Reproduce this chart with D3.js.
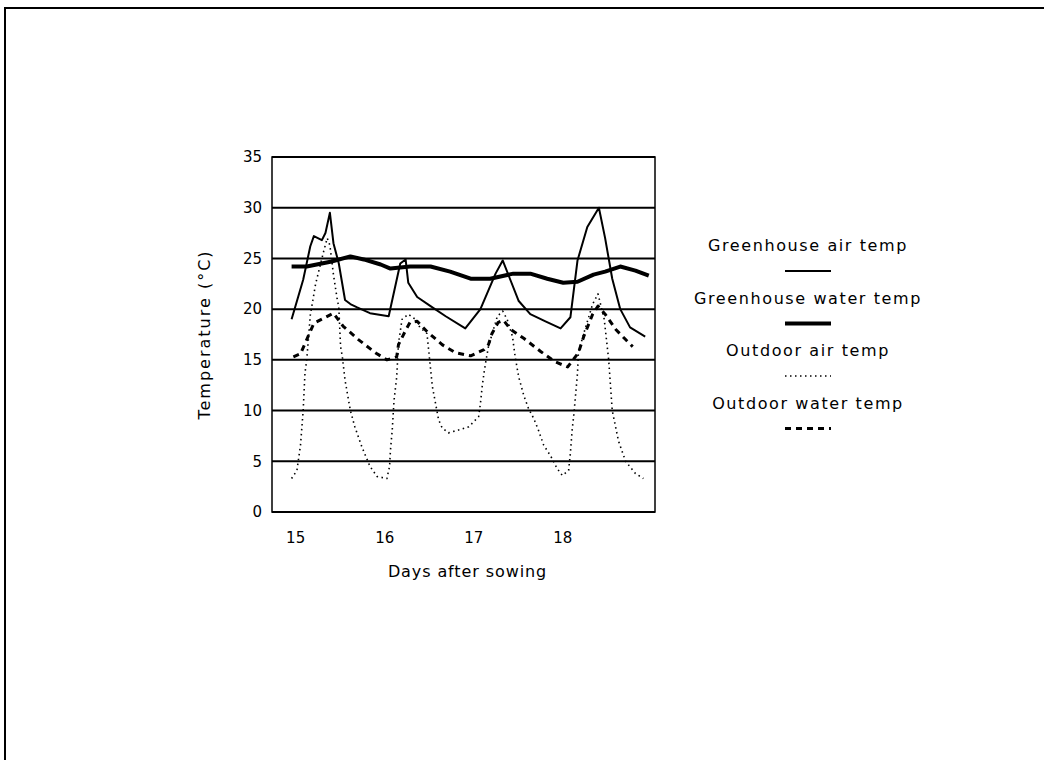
<!DOCTYPE html>
<html lang="en">
<head>
    <meta charset="UTF-8">
    <title>Temperature</title>
    <script src="https://cdn.jsdelivr.net/npm/d3@7"></script>
    <style>
        body { margin: 0; background: #fff; }
        text { font-family: "DejaVu Sans", sans-serif; fill: #000; }
    </style>
</head>
<body>
<script>
    // x = days after sowing, y = temperature (°C)
    const ghAirDays  = [14.96, 15.09, 15.17, 15.21, 15.30, 15.34, 15.39, 15.43, 15.49, 15.56, 15.62, 15.69, 15.84, 16.05,
                        16.18, 16.24, 16.27, 16.37, 16.52, 16.69, 16.91, 17.08, 17.25, 17.33, 17.42, 17.51, 17.64, 17.81,
                        17.98, 18.09, 18.17, 18.28, 18.41, 18.48, 18.56, 18.65, 18.76, 18.93];
    const ghAirTemp  = [19.0, 22.9, 26.2, 27.2, 26.8, 27.5, 29.5, 26.5, 24.5, 20.9, 20.5, 20.2, 19.6, 19.3,
                        24.5, 24.9, 22.6, 21.2, 20.3, 19.3, 18.1, 20.0, 23.5, 24.8, 22.8, 20.8, 19.5, 18.8,
                        18.1, 19.2, 24.8, 28.1, 30.0, 27.0, 23.0, 20.0, 18.2, 17.3];

    const ghWaterDays = [14.96, 15.13, 15.41, 15.62, 15.77, 15.96, 16.07, 16.29, 16.52, 16.74, 16.97, 17.19, 17.45,
                         17.64, 17.83, 18.01, 18.17, 18.35, 18.48, 18.65, 18.82, 18.97];
    const ghWaterTemp = [24.2, 24.2, 24.7, 25.2, 24.9, 24.4, 24.0, 24.2, 24.2, 23.7, 23.0, 23.0, 23.5,
                         23.5, 23.0, 22.6, 22.7, 23.4, 23.7, 24.2, 23.8, 23.3];

    const outAirDays = [14.96, 15.02, 15.06, 15.09, 15.11, 15.13, 15.17, 15.23, 15.32, 15.36, 15.39, 15.43, 15.47, 15.49,
                        15.51, 15.53, 15.56, 15.62, 15.67, 15.75, 15.84, 15.92, 16.03, 16.06, 16.07, 16.09, 16.11, 16.14,
                        16.16, 16.20, 16.27, 16.35, 16.40, 16.48, 16.51, 16.54, 16.57, 16.61, 16.65, 16.72, 16.84, 16.95,
                        17.06, 17.08, 17.10, 17.12, 17.14, 17.17, 17.27, 17.33, 17.38, 17.44, 17.47, 17.51, 17.57, 17.62,
                        17.68, 17.73, 17.79, 17.87, 17.94, 18.00, 18.07, 18.09, 18.11, 18.13, 18.15, 18.17, 18.18, 18.24,
                        18.34, 18.40, 18.47, 18.52, 18.56, 18.63, 18.71, 18.82, 18.91];
    const outAirTemp = [3.3, 4.1, 6.6, 10.0, 13.7, 15.0, 19.4, 22.5, 25.7, 27.0, 26.3, 23.4, 21.1, 20.2,
                        16.3, 15.3, 13.0, 10.0, 8.4, 6.4, 4.5, 3.5, 3.3, 4.5, 6.1, 8.1, 11.0, 13.3,
                        16.6, 19.0, 19.5, 19.0, 18.2, 17.6, 15.0, 12.4, 11.0, 9.1, 8.3, 7.8, 8.1, 8.4,
                        9.4, 10.7, 12.4, 13.7, 14.8, 16.3, 19.3, 19.8, 19.0, 17.3, 15.3, 13.3, 11.4, 10.2,
                        9.2, 8.1, 6.6, 5.5, 4.3, 3.6, 4.1, 5.8, 8.1, 9.7, 11.7, 13.7, 15.7, 17.6,
                        20.5, 21.5, 19.0, 15.0, 10.0, 7.0, 5.0, 3.8, 3.3];

    const outWaterDays = [14.98, 15.06, 15.13, 15.21, 15.32, 15.43, 15.54, 15.71, 15.90, 16.03, 16.14, 16.16, 16.24,
                          16.29, 16.37, 16.48, 16.65, 16.80, 16.97, 17.12, 17.17, 17.21, 17.28, 17.34, 17.42, 17.57,
                          17.76, 17.92, 18.06, 18.18, 18.24, 18.34, 18.40, 18.48, 18.60, 18.71, 18.79];
    const outWaterTemp = [15.3, 15.6, 17.0, 18.6, 19.1, 19.6, 18.3, 17.0, 15.7, 15.0, 15.3, 16.5, 17.9,
                          18.7, 18.8, 17.8, 16.5, 15.7, 15.4, 16.0, 16.5, 17.6, 18.7, 18.9, 18.0, 17.1,
                          15.8, 14.8, 14.3, 15.7, 17.3, 19.5, 20.3, 19.5, 18.0, 17.0, 16.3];

    const xTicks = [15, 16, 17, 18];
    const yTicks = [0, 5, 10, 15, 20, 25, 30, 35];

    const seriesNames = ["Greenhouse air temp", "Greenhouse water temp", "Outdoor air temp", "Outdoor water temp"];

    var w = 1044, h = 760;
    var plotL = 272, plotR = 655, plotT = 157, plotB = 512;

    var svg = d3.select("body").append("svg")
        .attr("width", w)
        .attr("height", h);

    // outer frame (runs off the right/bottom edge like the scan)
    svg.append("rect")
        .attr("x", 5).attr("y", 8)
        .attr("width", w + 10).attr("height", h + 10)
        .attr("fill", "none").attr("stroke", "#000").attr("stroke-width", 2);

    var x = d3.scaleLinear().domain([14.74, 19.04]).range([plotL, plotR]);
    var y = d3.scaleLinear().domain([0, 35]).range([plotB, plotT]);

    // gridlines
    svg.selectAll("line.grid")
        .data(yTicks)
        .enter()
        .append("line")
        .attr("class", "grid")
        .attr("x1", plotL).attr("x2", plotR)
        .attr("y1", function (d) { return y(d); })
        .attr("y2", function (d) { return y(d); })
        .attr("stroke", "#000")
        .attr("stroke-width", 2);

    // plot box
    svg.append("rect")
        .attr("x", plotL).attr("y", plotT)
        .attr("width", plotR - plotL).attr("height", plotB - plotT)
        .attr("fill", "none").attr("stroke", "#000").attr("stroke-width", 1.5);

    // y axis labels
    var yAxis = d3.axisLeft(y).tickValues(yTicks).tickSize(0).tickPadding(10);
    var gy = svg.append("g").attr("transform", "translate(" + plotL + ",0)").call(yAxis);
    gy.select(".domain").remove();
    gy.selectAll("text").attr("font-size", "15px").attr("font-family", "DejaVu Sans");

    // x axis labels
    var xAxis = d3.axisBottom(x).tickValues(xTicks).tickFormat(d3.format("d")).tickSize(0).tickPadding(20);
    var gx = svg.append("g").attr("transform", "translate(0," + plotB + ")").call(xAxis);
    gx.select(".domain").remove();
    gx.selectAll("text").attr("font-size", "15px").attr("font-family", "DejaVu Sans");

    // axis titles
    svg.append("text")
        .attr("x", (plotL + plotR) / 2 + 4)
        .attr("y", 577)
        .attr("text-anchor", "middle")
        .attr("font-size", "16px")
        .attr("letter-spacing", "0.9px")
        .text("Days after sowing");

    svg.append("text")
        .attr("transform", "translate(210," + (plotT + plotB) / 2 + ") rotate(-90)")
        .attr("text-anchor", "middle")
        .attr("font-size", "16px")
        .attr("letter-spacing", "2px")
        .text("Temperature (°C)");

    // lines
    var styles = [
        { width: 2, dash: null },
        { width: 4, dash: null },
        { width: 1.6, dash: "1.5,3.5" },
        { width: 3, dash: "6,5" }
    ];
    var seriesData = [
        d3.zip(ghAirDays, ghAirTemp),
        d3.zip(ghWaterDays, ghWaterTemp),
        d3.zip(outAirDays, outAirTemp),
        d3.zip(outWaterDays, outWaterTemp)
    ];

    var line = d3.line()
        .x(function (d) { return x(d[0]); })
        .y(function (d) { return y(d[1]); });

    // draw dotted/dashed first, solid on top
    [2, 3, 0, 1].forEach(function (i) {
        svg.append("path")
            .datum(seriesData[i])
            .attr("d", line)
            .attr("fill", "none")
            .attr("stroke", "#000")
            .attr("stroke-width", styles[i].width)
            .attr("stroke-dasharray", styles[i].dash)
            .attr("stroke-linejoin", "round");
    });

    // legend
    var lx = 808;
    var legend = svg.selectAll("g.legend")
        .data(seriesNames)
        .enter()
        .append("g")
        .attr("class", "legend")
        .attr("transform", function (d, i) { return "translate(" + lx + "," + (251 + i * 52.5) + ")"; });

    legend.append("text")
        .attr("text-anchor", "middle")
        .attr("font-size", "16px")
        .attr("letter-spacing", "1.6px")
        .text(function (d) { return d; });

    legend.append("line")
        .attr("x1", -23).attr("x2", 23)
        .attr("y1", 20).attr("y2", 20)
        .attr("stroke", "#000")
        .attr("stroke-width", function (d, i) { return styles[i].width; })
        .attr("stroke-dasharray", function (d, i) { return styles[i].dash; });
</script>
</body>
</html>
